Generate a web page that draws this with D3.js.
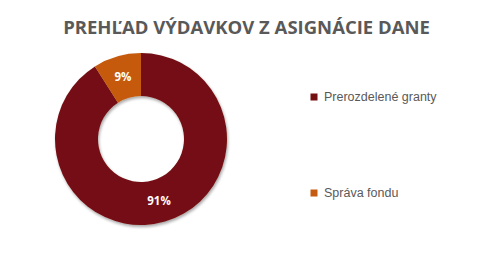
<!DOCTYPE html>
<html><head><meta charset="utf-8">
<script src="https://cdn.jsdelivr.net/npm/d3@7"></script>
<style>body{margin:0;background:#fff}svg{display:block}</style>
</head><body><div id="c"></div>
<script>
const categories = ["Prerozdelené granty", "Správa fondu"];
const values = [91, 9];
const labels = ["91%", "9%"];
const colors = ["#741012", "#C55A11"];

const W = 504, H = 257;
const svg = d3.select("#c").append("svg").attr("width", W).attr("height", H);

svg.append("text").attr("x", 246.5).attr("y", 34).attr("text-anchor", "middle")
  .attr("font-family", "'Open Sans', sans-serif").attr("font-weight", 700)
  .attr("font-size", 18.5).attr("fill", "#595959")
  .text("PREHĽAD VÝDAVKOV Z ASIGNÁCIE DANE");

const defs = svg.append("defs");
const f = defs.append("filter").attr("id", "sh").attr("x", "-20%").attr("y", "-20%").attr("width", "140%").attr("height", "140%");
f.append("feGaussianBlur").attr("in", "SourceAlpha").attr("stdDeviation", 1.5);
f.append("feOffset").attr("dx", 1).attr("dy", 1.5).attr("result", "b");
f.append("feComponentTransfer").append("feFuncA").attr("type", "linear").attr("slope", 0.35);
const m = f.append("feMerge"); m.append("feMergeNode"); m.append("feMergeNode").attr("in", "SourceGraphic");

const cx = 141, cy = 139, rO = 86, rI = 43;
const pie = d3.pie().sort(null).value(d => d);
const arcs = pie(values);
const arc = d3.arc().innerRadius(rI).outerRadius(rO);
const g = svg.append("g").attr("transform", `translate(${cx},${cy})`);
g.append("g").attr("filter", "url(#sh)").selectAll("path").data(arcs).join("path")
  .attr("d", arc).attr("fill", (d, i) => colors[i]);

const labelArc = d3.arc().innerRadius((rI + rO) / 2).outerRadius((rI + rO) / 2);
g.selectAll("text.l").data(arcs).join("text").attr("class", "l")
  .attr("transform", d => `translate(${labelArc.centroid(d)})`)
  .attr("text-anchor", "middle").attr("dy", "0.35em")
  .attr("font-family", "'Open Sans', sans-serif").attr("font-weight", 700)
  .attr("font-size", 11.5).attr("fill", "#fff")
  .text((d, i) => labels[i]);

const ly = d3.scalePoint().domain(categories).range([97, 193]);
const lg = svg.append("g").selectAll("g").data(categories).join("g")
  .attr("transform", d => `translate(314,${ly(d)})`);
lg.append("rect").attr("x", -3.5).attr("y", -3.5).attr("width", 7).attr("height", 7)
  .attr("fill", (d, i) => colors[i]);
lg.append("text").attr("x", 10).attr("dy", "0.35em")
  .attr("font-family", "'Liberation Sans', Arial, sans-serif").attr("font-size", 12.5)
  .attr("fill", "#595959").text(d => d);
</script></body></html>
